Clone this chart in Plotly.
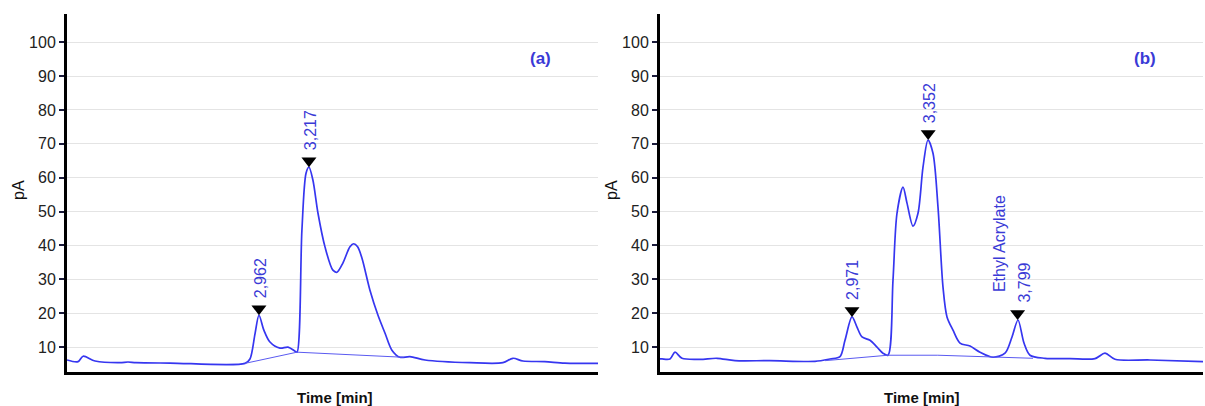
import plotly.graph_objects as go

# ---------------- data ----------------
# Panel (a)
a_time = [1.983, 2.039, 2.065, 2.126, 2.253, 2.294, 2.335, 2.508, 2.891, 2.916,
          2.942, 2.962, 2.987, 3.018, 3.069, 3.110, 3.146, 3.156, 3.181, 3.202,
          3.217, 3.237, 3.263, 3.299, 3.339, 3.360, 3.390, 3.426, 3.445, 3.465, 3.487,
          3.528, 3.569, 3.605, 3.640, 3.681, 3.732, 3.809, 4.038, 4.206, 4.257,
          4.308, 4.420, 4.522, 4.691]
a_signal = [6.2, 5.7, 7.3, 5.9, 5.4, 5.6, 5.4, 5.3, 5.2, 6.5,
            14.0, 19.4, 15.0, 11.5, 9.7, 10.0, 8.8, 8.5, 44.5, 61.3,
            63.1, 59.3, 49.5, 39.5, 32.7, 32.1, 34.8, 39.6, 40.5, 39.6, 36.3,
            26.8, 19.4, 14.1, 9.1, 7.0, 7.2, 6.2, 5.4, 5.4, 6.7,
            5.9, 5.7, 5.3, 5.2]
a_base_time = [2.891, 3.156, 3.700]
a_base_signal = [5.2, 8.5, 7.0]
a_peak_time = [2.962, 3.217]
a_peak_signal = [19.4, 63.1]
a_peak_labels = ["2,962", "3,217"]

# Panel (b)
b_time = [2.011, 2.021, 2.061, 2.086, 2.121, 2.211, 2.296, 2.386, 2.561, 2.786,
          2.861, 2.911, 2.936, 2.971, 2.996, 3.021, 3.061, 3.096, 3.126, 3.151,
          3.176, 3.196, 3.226, 3.246, 3.276, 3.301, 3.326, 3.351, 3.376, 3.401,
          3.426, 3.446, 3.476, 3.511, 3.561, 3.611, 3.676, 3.736, 3.771, 3.801,
          3.831, 3.861, 3.936, 4.061, 4.186, 4.236, 4.286, 4.461, 4.726]
b_signal = [6.5, 6.5, 6.5, 8.5, 6.7, 6.4, 6.7, 6.0, 6.0, 5.8,
            6.5, 7.2, 12.0, 18.9, 15.9, 13.0, 12.0, 10.0, 8.2, 7.6,
            29.8, 49.5, 57.2, 52.5, 45.7, 49.5, 63.1, 71.1, 67.2, 51.3,
            27.7, 18.9, 15.0, 11.2, 10.3, 8.5, 7.0, 8.2, 13.0, 18.0,
            11.2, 7.6, 6.7, 6.6, 6.6, 8.2, 6.4, 6.2, 5.7]
b_base_time = [2.836, 3.151, 3.400, 3.680, 3.876]
b_base_signal = [6.0, 7.6, 7.6, 7.0, 6.7]
b_peak_time = [2.971, 3.352, 3.799]
b_peak_signal = [18.9, 71.1, 18.0]
b_peak_labels = ["2,971", "3,352", "3,799"]
b_compound_label = "Ethyl Acrylate"

y_ticks = [10, 20, 30, 40, 50, 60, 70, 80, 90, 100]
panel_labels = ["(a)", "(b)"]
x_title = "Time [min]"
y_title = "pA"

# ---------------- styling ----------------
W, H = 1205, 406
LINE = "#3636f0"
TXT_BLUE = "#3a3ad6"
FONT = "Liberation Sans, Arial, Helvetica, sans-serif"
Y_RANGE = [2.8, 108.3]
PX_PER_UNIT = 3.389
TRI_OFFSET = 6.5 / PX_PER_UNIT

fig = go.Figure()


def add_panel(xa, ya, t, s, bt, bs, pt, ps):
    fig.add_trace(go.Scatter(x=t, y=s, mode="lines", xaxis=xa, yaxis=ya,
                             line=dict(color=LINE, width=1.7, shape="spline", smoothing=0.85),
                             showlegend=False, hoverinfo="skip"))
    fig.add_trace(go.Scatter(x=bt, y=bs, mode="lines", xaxis=xa, yaxis=ya,
                             line=dict(color="#5a5af0", width=1),
                             showlegend=False, hoverinfo="skip"))
    fig.add_trace(go.Scatter(x=pt, y=[v + TRI_OFFSET for v in ps], mode="markers",
                             xaxis=xa, yaxis=ya,
                             marker=dict(symbol="triangle-down", size=13, color="black",
                                         line=dict(width=0)),
                             showlegend=False, hoverinfo="skip"))


add_panel("x", "y", a_time, a_signal, a_base_time, a_base_signal, a_peak_time, a_peak_signal)
add_panel("x2", "y2", b_time, b_signal, b_base_time, b_base_signal, b_peak_time, b_peak_signal)

annotations = []
for xr, yr, pt, ps, pl in [("x", "y", a_peak_time, a_peak_signal, a_peak_labels),
                           ("x2", "y2", b_peak_time, b_peak_signal, b_peak_labels)]:
    for t, v, lab in zip(pt, ps, pl):
        annotations.append(dict(x=t, y=v, xref=xr, yref=yr, text=lab, showarrow=False,
                                textangle=-90, yanchor="bottom", xanchor="center",
                                yshift=15, xshift=(7 if lab == "3,799" else 1),
                                font=dict(family=FONT, size=16, color=TXT_BLUE)))
annotations.append(dict(x=b_peak_time[2], y=b_peak_signal[2], xref="x2", yref="y2",
                        text=b_compound_label, showarrow=False, textangle=-90,
                        yanchor="bottom", xanchor="center", yshift=26, xshift=-18,
                        font=dict(family=FONT, size=16, color=TXT_BLUE)))

# panel letters
for xp, lab in zip([540, 1145], panel_labels):
    annotations.append(dict(x=xp / W, y=1 - 59 / H, xref="paper", yref="paper", text="<b>%s</b>" % lab,
                            showarrow=False, xanchor="center", yanchor="middle",
                            font=dict(family=FONT, size=17, color=TXT_BLUE)))
# axis titles
for xp in [335, 922]:
    annotations.append(dict(x=xp / W, y=1 - 397 / H, xref="paper", yref="paper", text="<b>%s</b>" % x_title,
                            showarrow=False, xanchor="center", yanchor="middle",
                            font=dict(family=FONT, size=15, color="#111")))
for xp in [18, 611]:
    annotations.append(dict(x=xp / W, y=1 - 190 / H, xref="paper", yref="paper", text=y_title,
                            showarrow=False, xanchor="center", yanchor="middle", textangle=-90,
                            font=dict(family=FONT, size=16, color="#111")))

y_bottom_px, y_top_px = 371.5, 14
ydom = [(H - y_bottom_px) / H, (H - y_top_px) / H]

xcommon = dict(showticklabels=False, ticks="", showgrid=False, zeroline=False,
               showline=True, linecolor="black", linewidth=3)
ycommon = dict(range=Y_RANGE, domain=ydom, tickvals=y_ticks, ticks="outside", ticklen=5,
               tickwidth=2, tickcolor="#1b1b3b", showgrid=True, gridcolor="#e4e4e4",
               gridwidth=1, zeroline=False, showline=True, linecolor="black", linewidth=3,
               tickfont=dict(family=FONT, size=16, color="#222"))

fig.update_layout(
    width=W, height=H,
    margin=dict(l=0, r=0, t=0, b=0),
    paper_bgcolor="white", plot_bgcolor="white",
    xaxis=dict(domain=[67 / W, 598 / W], range=[1.983, 4.691], anchor="y", **xcommon),
    xaxis2=dict(domain=[660 / W, 1203 / W], range=[2.011, 4.726], anchor="y2", **xcommon),
    yaxis=dict(anchor="x", **ycommon),
    yaxis2=dict(anchor="x2", **ycommon),
    annotations=annotations,
)

fig.write_html("out.html", config={"displayModeBar": False},
               post_script="document.body.style.margin='0';document.body.style.padding='0';")
